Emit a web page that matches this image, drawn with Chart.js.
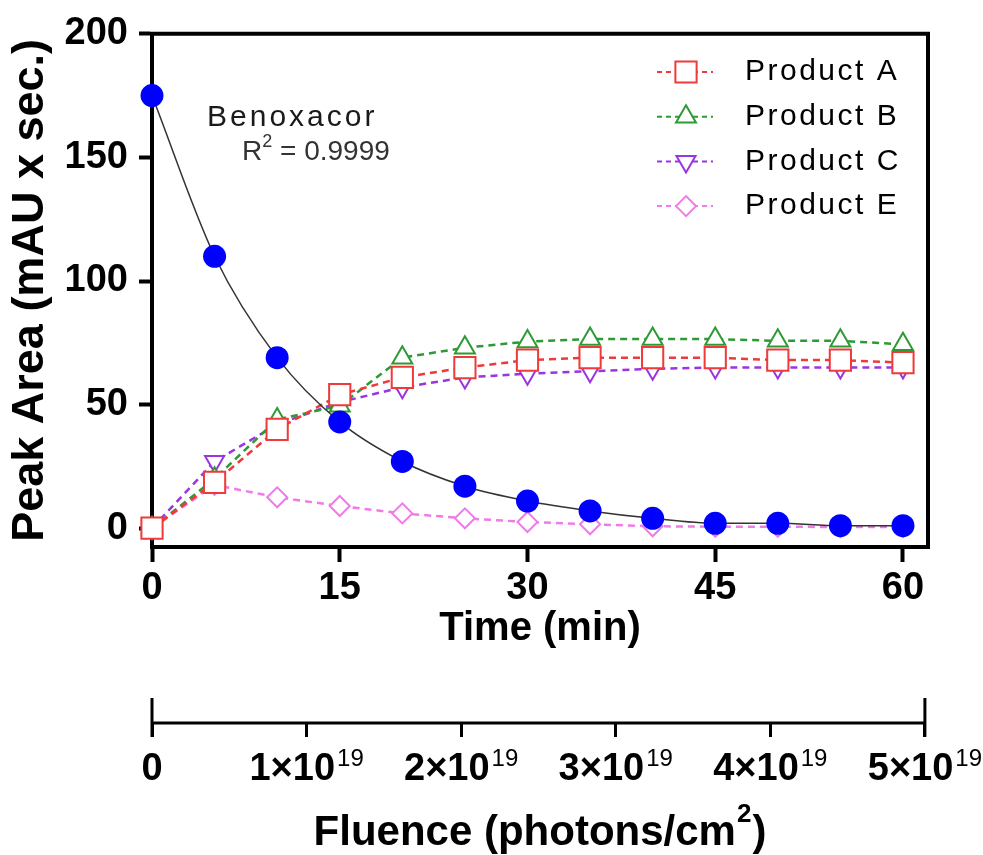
<!DOCTYPE html>
<html>
<head>
<meta charset="utf-8">
<script src="https://cdn.jsdelivr.net/npm/chart.js@4.4.1/dist/chart.umd.min.js"></script>
<style>
  html, body { margin: 0; padding: 0; background: #fff; }
  #wrap { width: 983px; height: 855px; position: relative; }
</style>
</head>
<body>
<div id="wrap"><canvas id="chart"></canvas></div>
<script>
// data
const timeMin   = [0, 5, 10, 15, 20, 25, 30, 35, 40, 45, 50, 55, 60];
const benoxacor = [175, 110, 69, 43, 27, 17, 11, 7, 4, 2, 2, 1, 1];
const productA  = [0, 18.5, 40, 54, 61, 65, 68, 69, 69, 69, 68, 68, 67];
const productB  = [0, 20, 44, 49.5, 69, 73, 75.5, 76.5, 76.5, 76.5, 75.8, 75.8, 74.4];
const productC  = [0, 27, 42, 51, 57, 61, 62.5, 63.5, 64.5, 65, 65, 65, 65];
const productE  = [0, 17.5, 12.5, 9, 6, 4, 2.5, 1.6, 0.8, 0.6, 0.6, 0.5, 0.5];

const timeTicks    = [0, 15, 30, 45, 60];
const peakTicks    = [0, 50, 100, 150, 200];
const fluenceTicks = [0, 1, 2, 3, 4, 5];   // in units of 10^19 photons/cm2

const FONT = "'Liberation Sans', Arial, sans-serif";
Chart.defaults.font.family = FONT;
Chart.defaults.color = '#000';

const pts = arr => timeMin.map((t, i) => ({ x: t, y: arr[i] }));

const products = [
  { label: 'Product A', data: productA, color: '#ee3a3a', style: 'rect', r: 15, rot: 0 },
  { label: 'Product B', data: productB, color: '#2e9a35', style: 'triangle', r: 11.5, rot: 0 },
  { label: 'Product C', data: productC, color: '#9b35e0', style: 'triangle', r: 11, rot: 180 },
  { label: 'Product E', data: productE, color: '#f07be8', style: 'rectRot', r: 10, rot: 0 }
];

const datasets = [{
  label: 'Benoxacor',
  data: pts(benoxacor),
  borderColor: '#333',
  borderWidth: 1.5,
  cubicInterpolationMode: 'monotone',
  pointRadius: 11.5,
  pointBackgroundColor: '#0000ff',
  pointBorderColor: '#0000ff',
  pointBorderWidth: 0,
  clip: false,
  order: 0
}].concat(products.map((p, i) => ({
  label: p.label,
  data: pts(p.data),
  borderColor: p.color,
  borderWidth: 2.5,
  borderDash: [7, 5],
  tension: 0,
  pointStyle: p.style,
  pointRadius: p.r,
  pointRotation: p.rot,
  pointBackgroundColor: '#fff',
  pointBorderColor: p.color,
  pointBorderWidth: 2,
  clip: false,
  order: i + 1
})));

function drawMarker(ctx, style, r, rot, x, y) {
  if (Chart.helpers && Chart.helpers.drawPoint) {
    Chart.helpers.drawPoint(ctx, { pointStyle: style, radius: r, rotation: rot, borderWidth: 2 }, x, y);
  }
}

const extras = {
  id: 'extras',
  afterDraw(chart) {
    const ctx = chart.ctx;
    const a = chart.chartArea;
    ctx.save();

    // top and right frame
    ctx.strokeStyle = '#000';
    ctx.lineWidth = 4;
    ctx.lineCap = 'square';
    ctx.beginPath();
    ctx.moveTo(a.left, a.top);
    ctx.lineTo(a.right, a.top);
    ctx.lineTo(a.right, a.bottom);
    ctx.stroke();

    // fluence axis line with tall end ticks
    const f = chart.scales.fluence;
    const fy = f.top;
    const f0 = f.getPixelForValue(fluenceTicks[0]);
    const f1 = f.getPixelForValue(fluenceTicks[fluenceTicks.length - 1]);
    ctx.lineWidth = 3;
    ctx.lineCap = 'butt';
    ctx.beginPath();
    ctx.moveTo(f0, fy); ctx.lineTo(f1, fy);
    ctx.moveTo(f0, fy - 25); ctx.lineTo(f0, fy + 14);
    ctx.moveTo(f1, fy - 25); ctx.lineTo(f1, fy + 14);
    ctx.stroke();

    // fluence tick labels with superscript exponent
    ctx.fillStyle = '#000';
    ctx.textBaseline = 'alphabetic';
    const base = fy + 57;
    fluenceTicks.forEach(v => {
      const x = f.getPixelForValue(v);
      if (v === 0) {
        ctx.font = 'bold 38px ' + FONT;
        ctx.textAlign = 'center';
        ctx.fillText('0', x, base);
        return;
      }
      const main = v + '\u00d710';
      ctx.font = 'bold 38px ' + FONT;
      const w1 = ctx.measureText(main).width;
      ctx.font = '24px ' + FONT;
      const w2 = ctx.measureText('19').width;
      const start = x - (w1 + w2 + 2) / 2;
      ctx.textAlign = 'left';
      ctx.font = 'bold 38px ' + FONT;
      ctx.fillText(main, start, base);
      ctx.font = '24px ' + FONT;
      ctx.fillText('19', start + w1 + 2, base - 14);
    });

    // fluence axis title with superscript 2
    const t1 = 'Fluence (photons/cm', t2 = '2', t3 = ')';
    ctx.font = 'bold 42px ' + FONT;
    const tw1 = ctx.measureText(t1).width, tw3 = ctx.measureText(t3).width;
    ctx.font = 'bold 26px ' + FONT;
    const tw2 = ctx.measureText(t2).width;
    const cx = (a.left + a.right) / 2;
    let tx = cx - (tw1 + tw2 + tw3 + 2) / 2;
    ctx.textAlign = 'left';
    ctx.font = 'bold 42px ' + FONT;
    ctx.fillText(t1, tx, 845);
    ctx.font = 'bold 26px ' + FONT;
    ctx.fillText(t2, tx + tw1 + 1, 822);
    ctx.font = 'bold 42px ' + FONT;
    ctx.fillText(t3, tx + tw1 + tw2 + 2, 845);

    // Benoxacor annotation
    ctx.fillStyle = '#1a1a1a';
    ctx.font = '30px ' + FONT;
    ctx.letterSpacing = '3px';
    ctx.fillText('Benoxacor', 207, 126);
    ctx.letterSpacing = '0px';
    ctx.fillStyle = '#333';
    ctx.font = '28px ' + FONT;
    ctx.fillText('R', 242, 160);
    const rw = ctx.measureText('R').width;
    ctx.font = '18px ' + FONT;
    ctx.fillText('2', 242 + rw, 147);
    ctx.font = '28px ' + FONT;
    ctx.fillText('= 0.9999', 280, 160);

    // legend
    products.forEach((p, i) => {
      const y = 72 + i * 44.7;
      ctx.strokeStyle = p.color;
      ctx.lineWidth = 2;
      ctx.setLineDash([5, 4]);
      ctx.beginPath();
      ctx.moveTo(657, y); ctx.lineTo(713, y);
      ctx.stroke();
      ctx.setLineDash([]);
      ctx.fillStyle = '#fff';
      drawMarker(ctx, p.style, p.r, p.rot, 686, y);
      ctx.fillStyle = '#000';
      ctx.font = '30px ' + FONT;
      ctx.letterSpacing = '2.5px';
      ctx.textBaseline = 'middle';
      ctx.fillText(p.label, 745, y);
      ctx.letterSpacing = '0px';
      ctx.textBaseline = 'alphabetic';
    });

    ctx.restore();
  }
};

const setTicks = list => scale => { scale.ticks = list.map(v => ({ value: v })); };

new Chart(document.getElementById('chart'), {
  type: 'line',
  data: { datasets },
  options: {
    responsive: true,
    maintainAspectRatio: false,
    animation: false,
    layout: { padding: { top: 31, right: 55, left: 0, bottom: 0 } },
    plugins: { legend: { display: false }, tooltip: { enabled: false } },
    scales: {
      x: {
        type: 'linear',
        position: 'bottom',
        weight: 0,
        min: 0,
        max: 62,
        afterBuildTicks: setTicks(timeTicks),
        afterFit: s => { s.height = 176; },
        grid: { display: true, drawOnChartArea: false, drawTicks: true, tickLength: 15, tickWidth: 4, tickColor: '#000' },
        border: { display: true, color: '#000', width: 4 },
        ticks: { font: { size: 38, weight: 'bold' }, padding: 4, maxRotation: 0 },
        title: { display: true, text: 'Time (min)', font: { size: 40, weight: 'bold' }, padding: { top: 0, bottom: 70 } }
      },
      fluence: {
        type: 'linear',
        axis: 'x',
        position: 'bottom',
        weight: 1,
        min: 0,
        max: 5.02,
        afterBuildTicks: setTicks(fluenceTicks),
        afterFit: s => { s.height = 132; },
        grid: { display: true, drawOnChartArea: false, drawTicks: true, tickLength: 14, tickWidth: 3, tickColor: '#000' },
        border: { display: false },
        ticks: { display: false },
        title: { display: false }
      },
      y: {
        type: 'linear',
        position: 'left',
        min: -7.6,
        max: 200,
        afterBuildTicks: setTicks(peakTicks),
        afterFit: s => { s.width = 152; },
        grid: { display: true, drawOnChartArea: false, drawTicks: true, tickLength: 13, tickWidth: 4, tickColor: '#000' },
        border: { display: true, color: '#000', width: 4 },
        ticks: { font: { size: 38, weight: 'bold' }, padding: 11 },
        title: { display: true, text: 'Peak Area (mAU x sec.)', font: { size: 45, weight: 'bold' }, padding: { top: 4, bottom: 0 } }
      }
    }
  },
  plugins: [extras]
});
</script>
</body>
</html>
